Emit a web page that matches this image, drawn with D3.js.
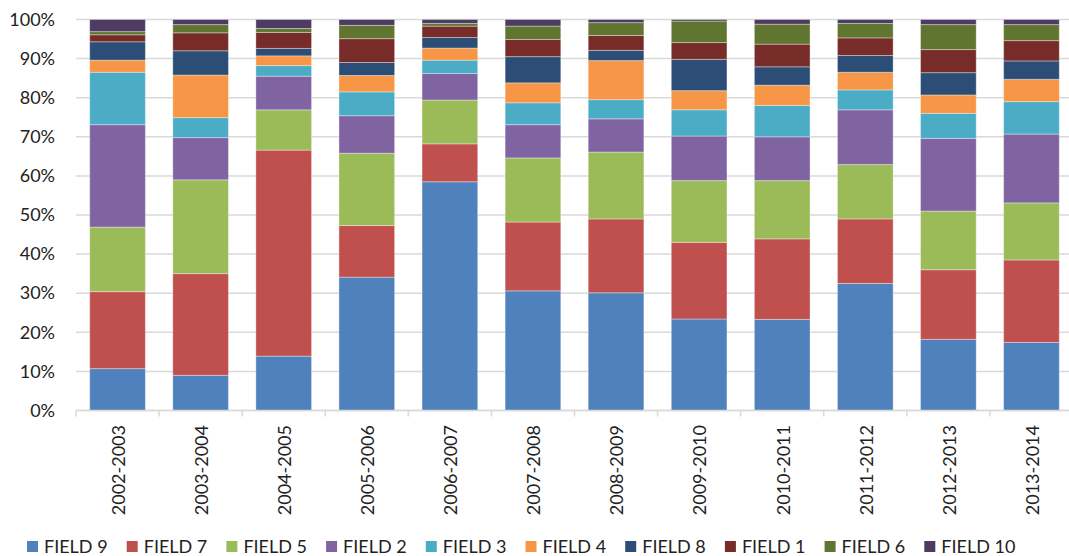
<!DOCTYPE html>
<html>
<head>
<meta charset="utf-8">
<script src="https://cdn.jsdelivr.net/npm/d3@7"></script>
<style>
  html, body { margin: 0; padding: 0; background: #fff; }
  svg { display: block; font-family: Lato, "Open Sans", sans-serif; }
</style>
</head>
<body>
<svg id="chart" width="1069" height="556"></svg>
<script>
const categories = ["2002-2003","2003-2004","2004-2005","2005-2006","2006-2007","2007-2008","2008-2009","2009-2010","2010-2011","2011-2012","2012-2013","2013-2014"];
const seriesNames = ["FIELD 9","FIELD 7","FIELD 5","FIELD 2","FIELD 3","FIELD 4","FIELD 8","FIELD 1","FIELD 6","FIELD 10"];
const seriesColors = ["#4F81BD","#C0504D","#9BBB59","#8064A2","#4BACC6","#F79646","#2C4D75","#772C2A","#5F7530","#4D3B62"];
const field9  = [10.7, 9.0, 13.9, 34.1, 58.5, 30.6, 30.1, 23.4, 23.3, 32.5, 18.2, 17.4];
const field7  = [19.7, 26.0, 52.7, 13.2, 9.7, 17.6, 18.9, 19.6, 20.6, 16.5, 17.8, 21.1];
const field5  = [16.5, 24.0, 10.3, 18.5, 11.2, 16.4, 17.1, 15.8, 14.9, 13.9, 15.0, 14.6];
const field2  = [26.2, 10.8, 8.6, 9.6, 6.8, 8.5, 8.5, 11.4, 11.2, 14.0, 18.6, 17.6];
const field3  = [13.4, 5.1, 2.7, 6.1, 3.4, 5.6, 4.9, 6.7, 8.0, 5.1, 6.4, 8.3];
const field4  = [3.1, 10.9, 2.5, 4.2, 3.1, 5.1, 10.0, 4.9, 5.2, 4.5, 4.7, 5.7];
const field8  = [4.7, 6.2, 1.9, 3.3, 2.7, 6.7, 2.6, 8.0, 4.7, 4.3, 5.7, 4.7];
const field1  = [1.8, 4.6, 4.1, 6.1, 2.9, 4.4, 3.8, 4.3, 5.8, 4.5, 5.9, 5.2];
const field6  = [0.8, 2.1, 1.0, 3.4, 0.7, 3.4, 3.3, 5.5, 5.1, 3.7, 6.4, 4.1];
const field10 = [3.1, 1.3, 2.3, 1.5, 1.0, 1.7, 0.8, 0.4, 1.2, 1.0, 1.3, 1.3];
const yTicks = [0, 0.1, 0.2, 0.3, 0.4, 0.5, 0.6, 0.7, 0.8, 0.9, 1.0];

const seriesValues = [field9, field7, field5, field2, field3, field4, field8, field1, field6, field10];
const table = categories.map((c, i) => {
  const row = { cat: c };
  seriesNames.forEach((s, k) => row[s] = seriesValues[k][i]);
  return row;
});

const svg = d3.select("#chart");
const plotLeft = 76, plotRight = 1073, plotTop = 19.5, plotBottom = 410.5;

const x = d3.scaleBand().domain(categories).range([plotLeft, plotRight]).paddingInner(0.33).paddingOuter(0.165);
const y = d3.scaleLinear().domain([0, 1]).range([plotBottom, plotTop]);
const color = d3.scaleOrdinal().domain(seriesNames).range(seriesColors);

// gridlines
svg.append("g").selectAll("line").data(yTicks).join("line")
  .attr("x1", plotLeft).attr("x2", plotRight)
  .attr("y1", d => y(d)).attr("y2", d => y(d))
  .attr("stroke", "#d9d9d9").attr("stroke-width", 1.5);

// y labels
const yAxis = d3.axisLeft(y).tickValues(yTicks).tickFormat(d3.format(".0%")).tickSize(0).tickPadding(21);
const gy = svg.append("g").attr("transform", `translate(${plotLeft},0)`).call(yAxis);
gy.select(".domain").remove();
gy.selectAll("text").attr("font-size", 18).attr("fill", "#222").attr("font-family", "Lato, 'Open Sans', sans-serif");

// stacked bars
const stack = d3.stack().keys(seriesNames).offset(d3.stackOffsetExpand);
const layers = stack(table);
svg.append("g").selectAll("g").data(layers).join("g")
  .attr("fill", d => color(d.key))
  .selectAll("rect").data(d => d).join("rect")
  .attr("x", d => x(d.data.cat))
  .attr("width", x.bandwidth())
  .attr("y", d => y(d[1]))
  .attr("height", d => y(d[0]) - y(d[1]))
  .attr("stroke", "rgba(255,255,255,0.35)")
  .attr("stroke-width", 1);

// x axis line and ticks at band boundaries
const step = x.step();
const gx = svg.append("g");
gx.append("line").attr("x1", plotLeft).attr("x2", plotRight).attr("y1", y(0)).attr("y2", y(0))
  .attr("stroke", "#d9d9d9").attr("stroke-width", 1.5);
gx.selectAll("line.tick").data(d3.range(categories.length + 1)).join("line")
  .attr("class", "tick")
  .attr("x1", i => plotLeft + i * step).attr("x2", i => plotLeft + i * step)
  .attr("y1", y(0)).attr("y2", y(0) + 6)
  .attr("stroke", "#d9d9d9").attr("stroke-width", 1.5);

// category labels rotated
gx.selectAll("text").data(categories).join("text")
  .attr("transform", d => `translate(${x(d) + x.bandwidth() / 2 + 1},425) rotate(-90)`)
  .attr("text-anchor", "end")
  .attr("dy", "0.35em")
  .attr("font-size", 18)
  .attr("fill", "#222")
  .text(d => d);

// legend
const legend = svg.append("g").selectAll("g").data(seriesNames).join("g")
  .attr("transform", (d, i) => `translate(${27 + i * 99.7},0)`);
legend.append("rect").attr("x", 0).attr("y", 541).attr("width", 11).attr("height", 11)
  .attr("fill", d => color(d));
legend.append("text").attr("x", 17).attr("y", 553).attr("font-size", 18).attr("fill", "#222").text(d => d);
</script>
</body>
</html>
